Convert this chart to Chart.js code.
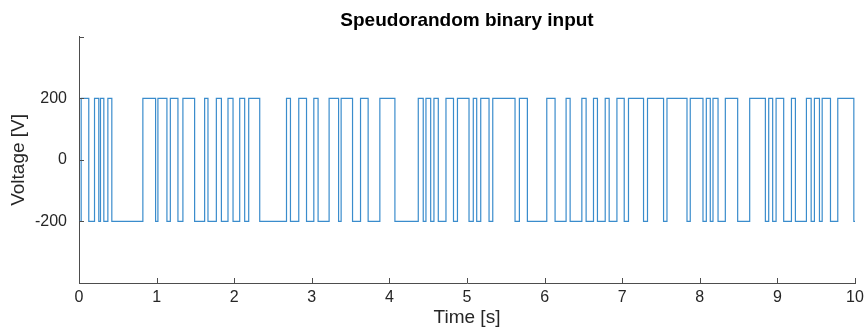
<!DOCTYPE html>
<html>
<head>
<meta charset="utf-8">
<script src="https://cdn.jsdelivr.net/npm/chart.js@4"></script>
<style>
  html, body { margin: 0; padding: 0; background: #fff; }
  #wrap { width: 866px; height: 329px; }
</style>
</head>
<body>
<div id="wrap"><canvas id="prbs-chart"></canvas></div>
<script>
const switchTimes = [
  0, 0.028, 0.126, 0.200, 0.255, 0.277, 0.320, 0.372, 0.423, 0.823,
  0.987, 1.017, 1.133, 1.177, 1.275, 1.339, 1.490, 1.619, 1.662, 1.770,
  1.835, 1.920, 1.985, 2.071, 2.135, 2.187, 2.329, 2.674, 2.725, 2.832,
  2.932, 3.026, 3.081, 3.223, 3.345, 3.378, 3.525, 3.628, 3.726, 3.877,
  4.071, 4.372, 4.436, 4.471, 4.532, 4.574, 4.630, 4.729, 4.826, 4.877,
  5.026, 5.081, 5.125, 5.177, 5.284, 5.332, 5.619, 5.675, 5.778, 6.028,
  6.135, 6.277, 6.329, 6.480, 6.535, 6.630, 6.681, 6.781, 6.832, 6.932,
  7.026, 7.081, 7.275, 7.326, 7.533, 7.577, 7.835, 7.877, 8.041, 8.084,
  8.135, 8.170, 8.235, 8.329, 8.488, 8.643, 8.845, 8.888, 8.939, 8.983,
  9.081, 9.181, 9.232, 9.374, 9.435, 9.477, 9.542, 9.577, 9.684, 9.778,
  9.985, 10,
];
const levels = [
  -200, 200, -200, 200, -200, 200, -200, 200, -200, 200,
  -200, 200, -200, 200, -200, 200, -200, 200, -200, 200,
  -200, 200, -200, 200, -200, 200, -200, 200, -200, 200,
  -200, 200, -200, 200, -200, 200, -200, 200, -200, 200,
  -200, 200, -200, 200, -200, 200, -200, 200, -200, 200,
  -200, 200, -200, 200, -200, 200, -200, 200, -200, 200,
  -200, 200, -200, 200, -200, 200, -200, 200, -200, 200,
  -200, 200, -200, 200, -200, 200, -200, 200, -200, 200,
  -200, 200, -200, 200, -200, 200, -200, 200, -200, 200,
  -200, 200, -200, 200, -200, 200, -200, 200, -200, 200,
  -200, -200,
];

const xTicks = [0, 1, 2, 3, 4, 5, 6, 7, 8, 9, 10];
const yTicks = [-400, -200, 0, 200, 400];
const yTickLabels = ["", "-200", "0", "200", ""];

const AXIS_COLOR = "#4d4d4d";
const TEXT_COLOR = "#262626";
const FONT = "'Liberation Sans', Arial, sans-serif";

/**
 * MATLAB-style tick marks that point into the plot area.
 */
const innerTicks = {
  id: "innerTicks",
  afterDatasetsDraw(chart) {
    const { ctx, chartArea, scales } = chart;
    const len = 5;
    ctx.save();
    ctx.strokeStyle = AXIS_COLOR;
    ctx.lineWidth = 1;
    ctx.beginPath();
    for (const v of xTicks) {
      const px = Math.round(scales.x.getPixelForValue(v)) + 0.5;
      ctx.moveTo(px, chartArea.bottom);
      ctx.lineTo(px, chartArea.bottom - len);
    }
    for (const v of yTicks) {
      const py = Math.round(scales.y.getPixelForValue(v)) + 0.5;
      ctx.moveTo(chartArea.left, py);
      ctx.lineTo(chartArea.left + len, py);
    }
    ctx.stroke();
    ctx.restore();
  },
};

const points = switchTimes.map((t, i) => ({ x: t, y: levels[i] }));

new Chart(document.getElementById("prbs-chart"), {
  type: "line",
  data: {
    datasets: [
      {
        data: points,
        stepped: true,
        borderColor: "#3a8ccc",
        borderWidth: 1.2,
        pointRadius: 0,
        fill: false,
      },
    ],
  },
  options: {
    responsive: true,
    maintainAspectRatio: false,
    animation: false,
    layout: { padding: { left: 0, right: 11, top: 0, bottom: 0 } },
    plugins: {
      legend: { display: false },
      tooltip: { enabled: false },
      title: {
        display: true,
        text: "Speudorandom binary input",
        fullSize: false,
        color: "#000",
        font: { family: FONT, size: 19, weight: "bold", lineHeight: 1.2 },
        padding: { top: 9, bottom: 5 },
      },
    },
    scales: {
      x: {
        type: "linear",
        min: 0,
        max: 10,
        afterBuildTicks: (scale) => {
          scale.ticks = xTicks.map((v) => ({ value: v }));
        },
        afterFit: (scale) => {
          scale.height = 46;
          scale.paddingLeft = 0;
          scale.paddingRight = 0;
        },
        ticks: {
          color: TEXT_COLOR,
          font: { family: FONT, size: 16 },
          padding: 5,
          maxRotation: 0,
          autoSkip: false,
        },
        grid: { display: true, drawOnChartArea: false, drawTicks: false },
        border: { display: true, color: AXIS_COLOR, width: 1 },
        title: {
          display: true,
          text: "Time [s]",
          color: TEXT_COLOR,
          font: { family: FONT, size: 19 },
          padding: { top: 0, bottom: 0 },
        },
      },
      y: {
        type: "linear",
        min: -400,
        max: 400,
        afterBuildTicks: (scale) => {
          scale.ticks = yTicks.map((v) => ({ value: v }));
        },
        afterFit: (scale) => {
          scale.width = 79;
        },
        ticks: {
          color: TEXT_COLOR,
          font: { family: FONT, size: 16 },
          padding: 12,
          autoSkip: false,
          callback: (value, index) => yTickLabels[index],
        },
        grid: { display: true, drawOnChartArea: false, drawTicks: false },
        border: { display: true, color: AXIS_COLOR, width: 1 },
        title: {
          display: true,
          text: "Voltage [V]",
          color: TEXT_COLOR,
          font: { family: FONT, size: 19 },
          padding: { top: 7, bottom: 0 },
        },
      },
    },
  },
  plugins: [innerTicks],
});
</script>
</body>
</html>
